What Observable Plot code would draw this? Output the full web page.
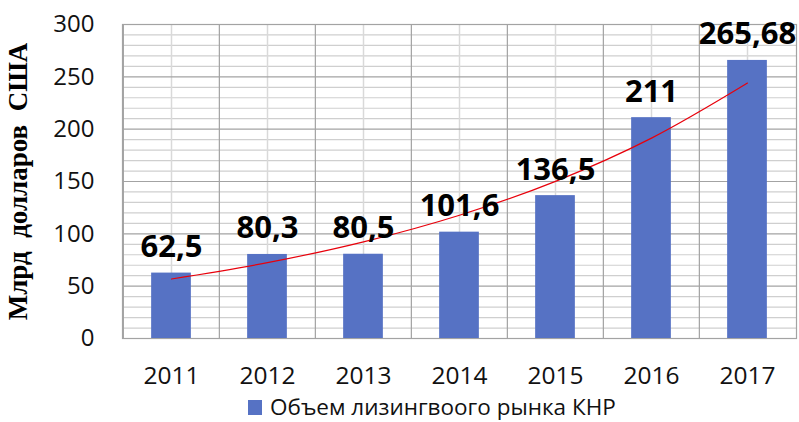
<!DOCTYPE html>
<html>
<head>
<meta charset="utf-8">
<script src="https://cdn.jsdelivr.net/npm/d3@7"></script>
<script src="https://cdn.jsdelivr.net/npm/@observablehq/plot@0.6"></script>
<style>
  body { margin: 0; background: #fff; font-family: "Open Sans", sans-serif; overflow: hidden; }
  #chart { width: 799px; height: 392px; }
  .legend { height: 30px; line-height: 30px; font-size: 22.5px; color: #111; padding-left: 248px; white-space: nowrap; }
  .legend .sw { display: inline-block; width: 14px; height: 15px; background: #5672C4; vertical-align: middle; margin-right: 8px; position: relative; top: -1px; }
</style>
</head>
<body>
<div id="chart"></div>
<script>
const years = ["2011", "2012", "2013", "2014", "2015", "2016", "2017"];
const values = [62.5, 80.3, 80.5, 101.6, 136.5, 211, 265.68];
const valueLabels = ["62,5", "80,3", "80,5", "101,6", "136,5", "211", "265,68"];
const yTicks = [0, 50, 100, 150, 200, 250, 300];
const minorTicks = d3.range(0, 301, 10).filter(v => v % 50 !== 0);
const seriesName = "Объем лизингвоого рынка КНР";
const yLabel = "Млрд\u00a0 долларов\u00a0 США";

const data = years.map((year, i) => ({year, value: values[i], label: valueLabels[i]}));

// exponential least-squares trendline (as in the spreadsheet)
const n = values.length;
const xs = d3.range(n);
const ly = values.map(Math.log);
const mx = d3.mean(xs), my = d3.mean(ly);
const slope = d3.sum(xs, (x, i) => (x - mx) * (ly[i] - my)) / d3.sum(xs, x => (x - mx) ** 2);
const intercept = my - slope * mx;
const trend = years.map((year, i) => ({year, value: Math.exp(intercept + slope * i)}));

const W = 799, H = 392, ML = 122, MR = 3, MT = 24, MB = 54;
const step = (W - ML - MR) / years.length;
const barW = 40;
const inset = (step - barW) / 2;

const chart = Plot.plot({
  width: W,
  height: H,
  marginLeft: ML,
  marginRight: MR,
  marginTop: MT,
  marginBottom: MB,
  style: {fontFamily: "Open Sans, sans-serif", fontSize: "24px", color: "#111", background: "#fff"},
  x: {type: "band", domain: years, padding: 0},
  y: {domain: [0, 300]},
  marks: [
    Plot.ruleY(minorTicks, {stroke: "#cfcfcf", strokeWidth: 1.2}),
    Plot.ruleX(years, {stroke: "#d9d9d9", strokeWidth: 1.5}),
    Plot.ruleY(yTicks, {stroke: "#a3a3a3", strokeWidth: 1.2}),
    Plot.ruleX(years, {dx: -step / 2, stroke: "#a3a3a3", strokeWidth: 1.2}),
    Plot.frame({stroke: "#a3a3a3", strokeWidth: 1.2}),
    Plot.barY(data, {x: "year", y: "value", fill: "#5672C4", insetLeft: inset, insetRight: inset}),
    Plot.line(trend, {x: "year", y: "value", stroke: "#e8000b", strokeWidth: 1.2, curve: "catmull-rom"}),
    Plot.text(data, {x: "year", y: "value", text: "label", lineAnchor: "bottom", dy: -16, fontSize: 31, fontWeight: "bold", fill: "#000"}),
    Plot.axisY({ticks: yTicks, tickSize: 0, tickPadding: 28, fontSize: 24, label: null}),
    Plot.axisX({tickSize: 0, tickPadding: 28, fontSize: 24.5, label: null}),
    Plot.text([yLabel], {frameAnchor: "left", textAnchor: "middle", rotate: -90, dx: -104, fontSize: 27, fontWeight: "bold", fontFamily: "Liberation Serif, serif", fill: "#000"})
  ]
});
document.getElementById("chart").appendChild(chart);

const legend = document.createElement("div");
legend.className = "legend";
legend.innerHTML = `<span class="sw"></span>${seriesName}`;
document.body.appendChild(legend);
</script>
</body>
</html>
